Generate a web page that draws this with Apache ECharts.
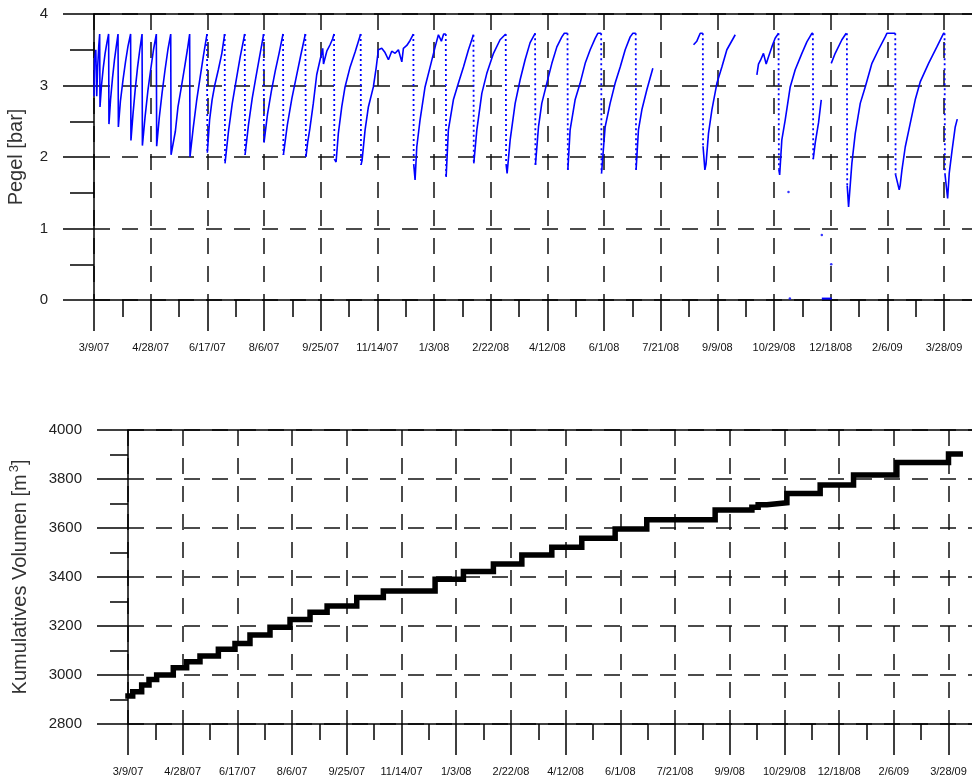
<!DOCTYPE html>
<html>
<head>
<meta charset="utf-8">
<script src="https://cdn.jsdelivr.net/npm/echarts@6/dist/echarts.min.js"></script>
<style>
html,body{margin:0;padding:0;background:#fff;}
#chart{width:972px;height:782px;}
</style>
</head>
<body>
<div id="chart"></div>
<script>
// x values are days since 3/9/07
const dateLabels = ['3/9/07','4/28/07','6/17/07','8/6/07','9/25/07','11/14/07','1/3/08','2/22/08','4/12/08','6/1/08','7/21/08','9/9/08','10/29/08','12/18/08','2/6/09','3/28/09'];
const pegelTicks = [0, 1, 2, 3, 4];
const volumeTicks = [2800, 3000, 3200, 3400, 3600, 3800, 4000];

// Pegel [bar] readings, [day, value]
const pegelPart1 = [
  [0, 2.85], [0.4, 3.35], [1.6, 3.5], [2.2, 3.5], [2.4, 2.85], [3.2, 3.25], [4.2, 3.55], [5.0, 3.72],
  [5.3, 2.70], [6.6, 3.0], [8.2, 3.25], [9.8, 3.45], [11.4, 3.6], [12.9, 3.72],
  [13.2, 2.46], [14.6, 2.8], [16.3, 3.1], [18.0, 3.35], [19.7, 3.55], [21.2, 3.72],
  [21.5, 2.42], [23.3, 2.78], [25.6, 3.08], [27.8, 3.33], [30.0, 3.55], [32.3, 3.72],
  [32.6, 2.23], [34.4, 2.6], [36.4, 2.95], [38.4, 3.25], [40.4, 3.5], [42.4, 3.72],
  [42.7, 2.16], [45.0, 2.55], [47.5, 2.92], [50.0, 3.22], [52.5, 3.5], [55.0, 3.72],
  [55.3, 2.15], [57.6, 2.55], [60.1, 2.9], [62.7, 3.22], [65.2, 3.5], [67.7, 3.72],
  [68.0, 2.03], [71.8, 2.36], [74.1, 2.70], [77.1, 2.98], [80.0, 3.26], [82.4, 3.5], [84.4, 3.72],
  [84.7, 2.0], [87.5, 2.4], [90.5, 2.78], [93.5, 3.1], [96.6, 3.42], [99.7, 3.72],
  [100.0, 2.06], [102.0, 2.52], [104.2, 2.8], [106.5, 3.0], [109.7, 3.22], [112.8, 3.45], [115.3, 3.72],
  [115.6, 1.91], [118.6, 2.35], [122.0, 2.75], [125.5, 3.08], [129.0, 3.4], [133.0, 3.72],
  [133.3, 2.03], [136.3, 2.45], [139.6, 2.82], [142.9, 3.12], [146.3, 3.42], [149.7, 3.72],
  [150.0, 2.2], [153.1, 2.6], [156.5, 2.92], [159.9, 3.2], [163.3, 3.45], [166.8, 3.72],
  [167.1, 2.03], [170.6, 2.45], [174.6, 2.82], [178.5, 3.12], [182.4, 3.42], [186.5, 3.72]
];
const pegelPart2 = [
  [187.0, 2.0], [188.5, 2.2], [190.5, 2.4], [193.5, 2.75], [196.5, 3.15], [199.5, 3.36], [201.8, 3.52], [202.5, 3.3], [204.0, 3.32], [205.4, 3.48], [208.3, 3.57], [210.5, 3.65], [211.8, 3.72],
  [212.1, 1.97], [213.6, 1.93], [215.6, 2.33], [218.6, 2.7], [221.5, 2.98], [226.0, 3.26], [230.4, 3.47], [235.3, 3.72],
  [235.6, 1.89], [236.5, 1.95], [239.2, 2.38], [242.1, 2.7], [246.5, 2.98], [249.0, 3.25], [250.9, 3.5], [253.9, 3.52], [256.8, 3.46], [259.8, 3.36], [262.7, 3.48], [265.7, 3.45], [268.6, 3.5], [271.6, 3.33], [273.0, 3.52], [276.0, 3.56], [278.9, 3.63], [281.8, 3.72],
  [282.1, 1.9], [283.3, 1.68], [284.8, 2.14], [287.7, 2.52], [292.1, 2.98], [296.6, 3.26], [301.0, 3.54], [303.9, 3.71], [306.5, 3.62], [308.5, 3.72], [310.4, 3.72],
  [310.7, 1.72], [312.7, 2.38], [317.1, 2.8], [321.5, 3.03], [326.0, 3.26], [330.4, 3.5], [334.8, 3.71],
  [335.1, 1.91], [337.8, 2.38], [342.2, 2.89], [346.6, 3.17], [352.5, 3.45], [358.3, 3.64], [363.3, 3.72],
  [363.6, 1.9], [364.5, 1.77], [367.2, 2.24], [371.6, 2.75], [376.0, 3.08], [380.4, 3.36], [384.8, 3.6], [389.2, 3.73],
  [389.5, 1.89], [392.2, 2.42], [395.1, 2.75], [399.5, 3.03], [404.0, 3.31], [408.4, 3.54], [412.8, 3.68], [415.0, 3.73], [417.8, 3.73],
  [418.1, 1.82], [420.1, 2.38], [424.5, 2.8], [428.9, 3.03], [433.4, 3.31], [437.8, 3.5], [442.2, 3.66], [444.5, 3.73], [447.5, 3.73],
  [447.8, 1.77], [451.0, 2.42], [455.4, 2.75], [459.8, 3.03], [464.3, 3.26], [468.7, 3.5], [473.1, 3.68], [475.5, 3.73], [478.0, 3.73],
  [478.3, 1.82], [480.4, 2.38], [483.4, 2.66], [487.8, 2.94], [493.1, 3.24], [510, null]
];
const pegelPart3 = [
  [529.0, 3.57], [531.9, 3.62], [534.9, 3.73], [537.2, 3.73],
  [537.4, 2.15], [538.5, 2.14], [539.0, 1.82], [540.0, 1.9], [542.2, 2.33], [545.2, 2.66], [549.6, 3.03], [554.0, 3.26], [558.4, 3.5], [565.8, 3.71], [575, null],
  [584.9, 3.15], [586.3, 3.3], [588.0, 3.35], [590.7, 3.45], [593.1, 3.3], [595.1, 3.4], [598.1, 3.54], [601.0, 3.66], [604.0, 3.73],
  [604.3, 1.82], [605.0, 1.75], [606.9, 2.24], [609.9, 2.52], [614.3, 2.98], [618.7, 3.22], [624.6, 3.45], [629.0, 3.61], [633.4, 3.73], [634.3, 3.73],
  [634.6, 1.97], [636.4, 2.2], [639.3, 2.48], [641.7, 2.8], [646, null],
  [650.5, 3.31], [654.0, 3.45], [659.9, 3.64], [663.7, 3.73], [664.3, 3.73],
  [664.6, 1.6], [665.8, 1.3], [668.7, 1.91], [671.7, 2.33], [676.1, 2.75], [680.5, 2.98], [686.4, 3.31], [692.2, 3.5], [698.1, 3.68], [699.6, 3.73], [707.0, 3.73],
  [707.3, 1.75], [710.5, 1.54], [711.3, 1.6], [712.9, 1.82], [715.8, 2.14], [720.2, 2.47], [724.6, 2.8], [729.0, 3.05], [736.4, 3.31], [743.7, 3.54], [749.6, 3.73], [750.5, 3.73],
  [750.8, 1.77], [752.5, 1.77], [753.2, 1.42], [754.6, 1.77], [757.0, 2.08], [759.9, 2.42], [761.7, 2.53]
];
const pegelOutliers = [[612.8, 1.51], [642.2, 0.91], [650.5, 0.5], [614.0, 0.02]];
const pegelZeroRun = [[642.2, 0.02], [651.0, 0.02]];

// Kumulatives Volumen [m3]: day of each step and level after it
const volumeDays = [0, 4.3, 12.5, 19.2, 26.2, 41.4, 53.6, 65.8, 82.6, 97.8, 111.5, 129.8, 148.1, 166.4, 182, 209.1, 233.4, 280.7, 306.6, 334, 360, 387.4, 414.8, 445.3, 474.2, 536.7, 570.3, 576, 584, 602.3, 632.7, 663.2, 702.8, 750, 760.7];
const volumeValues = [2914, 2932, 2959, 2982, 3000, 3030, 3054, 3078, 3105, 3129, 3163, 3195, 3227, 3256, 3282, 3316, 3343, 3391, 3422, 3453, 3490, 3521, 3558, 3596, 3634, 3673, 3685, 3695, 3703, 3741, 3776, 3816, 3867, 3902, 3902];

// Split the pegel readings: the sudden drops after day 95 are drawn dotted (sparse samples), the rest solid
const pegelAll = [].concat(pegelPart1, pegelPart2, pegelPart3);
const pegelSolid = [];
const pegelDrops = [];
pegelAll.forEach(function (p, i) {
  pegelSolid.push(p);
  const q = pegelAll[i + 1];
  if (q && p[1] != null && q[1] != null && p[0] > 95 && p[1] - q[1] > 0.4) {
    pegelSolid.push([p[0], null]);
    pegelDrops.push(p, q, [q[0], null]);
  }
});

const FONT = '"Liberation Sans", Arial, sans-serif';
const dash = [16, 12];

function xAxisFor(gridIndex, minorLen) {
  return {
    type: 'value', gridIndex: gridIndex, position: 'bottom',
    min: 0, max: 800, interval: 50,
    axisLine: { show: true, onZero: false, lineStyle: { color: '#000', width: 1.5 } },
    axisTick: { show: true, inside: false, length: 31, lineStyle: { color: '#000', width: 1.5 } },
    minorTick: { show: true, splitNumber: 2, length: minorLen, lineStyle: { color: '#000', width: 1.5 } },
    splitLine: { show: true, lineStyle: { color: '#111', width: 1.5, type: dash } },
    minorSplitLine: { show: false },
    axisLabel: {
      show: true, margin: 42, fontSize: 11, color: '#111', fontFamily: FONT,
      formatter: function (v) { return (v % 50 === 0 && dateLabels[v / 50]) || ''; }
    }
  };
}
function topBorder(gridIndex) {
  return {
    type: 'value', gridIndex: gridIndex, position: 'top', min: 0, max: 800,
    axisLine: { show: true, onZero: false, lineStyle: { color: '#000', width: 1.5 } },
    axisTick: { show: false }, axisLabel: { show: false }, splitLine: { show: false }
  };
}
function yAxisFor(gridIndex, ticks, minorLen, name, nameGap) {
  return {
    type: 'value', gridIndex: gridIndex,
    min: ticks[0], max: ticks[ticks.length - 1], interval: ticks[1] - ticks[0],
    axisLine: { show: true, onZero: false, lineStyle: { color: '#000', width: 1.5 } },
    axisTick: { show: true, inside: false, length: 31, lineStyle: { color: '#000', width: 1.5 } },
    minorTick: { show: true, splitNumber: 2, length: minorLen, lineStyle: { color: '#000', width: 1.5 } },
    splitLine: { show: true, lineStyle: { color: '#111', width: 1.5, type: dash } },
    axisLabel: { margin: 46, fontSize: 15, color: '#222', fontFamily: FONT, formatter: function (v) { return String(v); } },
    name: name, nameLocation: 'middle', nameGap: nameGap, nameRotate: 90,
    nameTextStyle: {
      fontSize: 20, color: '#333', fontFamily: FONT, lineHeight: 24,
      rich: { sup: { fontSize: 13, color: '#333', fontFamily: FONT, verticalAlign: 'top', lineHeight: 24, padding: [0, 0, 8, 2] } }
    }
  };
}

const chart = echarts.init(document.getElementById('chart'), null, { renderer: 'canvas' });
chart.setOption({
  animation: false,
  backgroundColor: '#fff',
  grid: [
    { left: 94, top: 14, width: 906.67, height: 286, containLabel: false, outerBoundsMode: 'none' },
    { left: 128, top: 430, width: 875.2, height: 294, containLabel: false, outerBoundsMode: 'none' }
  ],
  xAxis: [xAxisFor(0, 17), xAxisFor(1, 16), topBorder(0), topBorder(1)],
  yAxis: [
    yAxisFor(0, pegelTicks, 24, 'Pegel [bar]', 66),
    yAxisFor(1, volumeTicks, 18, 'Kumulatives Volumen [m{sup|3}]', 96)
  ],
  series: [
    {
      type: 'line', xAxisIndex: 0, yAxisIndex: 0,
      data: pegelSolid,
      showSymbol: false, connectNulls: false,
      lineStyle: { color: '#0000ff', width: 1.6 }, z: 5
    },
    {
      type: 'line', xAxisIndex: 0, yAxisIndex: 0,
      data: pegelDrops,
      showSymbol: false, connectNulls: false,
      lineStyle: { color: '#0000ff', width: 1.8, type: [2, 3] }, z: 5
    },
    {
      type: 'scatter', xAxisIndex: 0, yAxisIndex: 0, data: pegelOutliers,
      symbolSize: 2.5, itemStyle: { color: '#0000ff' }, z: 5
    },
    {
      type: 'line', xAxisIndex: 0, yAxisIndex: 0, data: pegelZeroRun,
      showSymbol: false, lineStyle: { color: '#0000ff', width: 2 }, z: 5
    },
    {
      type: 'line', xAxisIndex: 1, yAxisIndex: 1, step: 'end',
      data: volumeDays.map(function (d, i) { return [d, volumeValues[i]]; }),
      showSymbol: false,
      lineStyle: { color: '#000', width: 5.5, cap: 'square', join: 'miter' }, z: 5
    }
  ]
});
</script>
</body>
</html>
